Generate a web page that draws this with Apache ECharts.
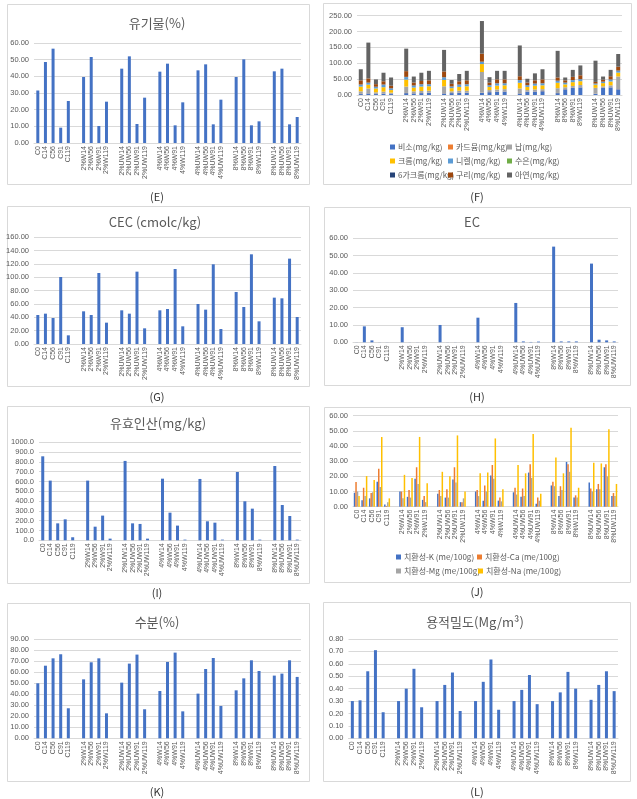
<!DOCTYPE html>
<html><head><meta charset="utf-8">
<script src="https://cdn.jsdelivr.net/npm/echarts/dist/echarts.min.js"></script>
<style>html,body{margin:0;padding:0;background:#fff}#c{width:637px;height:799px}</style>
</head><body><div id="c"></div>
<script>
// ---- data ----
const categories = ['C0','C14','C56','C91','C119',
  '2%W14','2%W56','2%W91','2%W119','2%UW14','2%UW56','2%UW91','2%UW119',
  '4%W14','4%W56','4%W91','4%W119','4%UW14','4%UW56','4%UW91','4%UW119',
  '8%W14','8%W56','8%W91','8%W119','8%UW14','8%UW56','8%UW91','8%UW119'];
const groupSizes = [5,4,4,4,4,4,4];

const organic = [31.5,48.6,56.6,9.2,25.2, 39.6,51.6,10.2,24.8, 44.6,52,11.4,27.2,
  42.8,47.6,10.6,24.4, 43.6,47.2,11.2,26, 39.6,50.2,10.6,13, 43,44.6,11.2,15.6];

const heavyNames = ['비소(mg/kg)','카드뮴(mg/kg)','납(mg/kg)','크롬(mg/kg)','니켈(mg/kg)','수은(mg/kg)','6가크롬(mg/kg)','구리(mg/kg)','아연(mg/kg)'];
const arsenic = [3,5,3,4,3, 6,5,6,7, 5,6,7,7, 7,9,10,11, 5,10,11,12, 6,18,22,24, 4,22,24,18];
const cadmium = [0.5,0.5,0.5,0.5,0.5, 0.5,0.5,0.5,0.5, 0.5,0.5,0.5,0.5, 0.5,0.5,0.5,0.5, 0.5,0.5,0.5,0.5, 0.5,0.5,0.5,0.5, 0.5,0.5,0.5,0.5];
const lead = [8,15,5,6,4, 20,6,6,6, 22,5,6,6, 65,6,7,7, 15,5,6,6, 15,6,6,7, 18,5,6,40];
const chromium = [15,12,12,14,8, 22,12,14,14, 20,10,12,14, 25,10,12,12, 18,10,12,12, 17,9,12,12, 10,10,12,12];
const nickel = [6,6,5,8,5, 8,6,7,6, 8,5,7,6, 7,5,7,6, 8,5,6,6, 6,5,6,6, 3,4,6,6];
const mercury = [0.2,0.2,0.2,0.2,0.2, 0.2,0.2,0.2,0.2, 0.2,0.2,0.2,0.2, 0.2,0.2,0.2,0.2, 0.2,0.2,0.2,0.2, 0.2,0.2,0.2,0.2, 0.2,0.2,0.2,0.2];
const chromium6 = [0.5,0.5,0.5,0.5,0.5, 0.5,0.5,0.5,0.5, 0.5,0.5,0.5,0.5, 0.5,0.5,0.5,0.5, 0.5,0.5,0.5,0.5, 0.5,0.5,0.5,0.5, 0.5,0.5,0.5,0.5];
const copper = [13,13,8,10,8, 18,9,10,12, 18,8,10,12, 25,8,12,12, 12,8,10,12, 10,7,10,12, 5,6,10,12];
const zinc = [35,113,15,27,26, 71,19,26,30, 68,12,23,30, 103,17,27,27, 97,12,22,32, 84,9,22,31, 67,10,20,40];

const cec = [43.5,45.5,39,100.5,13, 49,43.5,106.5,32, 50.5,45.5,108.5,23.5,
  50.5,52.5,112.5,26.5, 60,51.5,119.5,22.5, 78,55.5,134.5,34, 69.5,68.5,128,40.5];

const ec = [0.05,9.2,1.1,0.05,0.05, 8.7,0.05,0.05,0.05, 10,0.05,0.05,0.05,
  14.2,0.05,0.05,0.05, 22.7,0.5,0.2,0.4, 55.2,0.5,0.5,0.5, 45.4,1.5,1.1,0.5];

const phosphate = [857,609,173,214,31, 609,139,252,17, 810,173,167,17,
  629,282,150,7, 626,194,180,7, 697,398,323,7, 758,360,248,7];

const cationNames = ['치환성-K (me/100g)','치환성-Ca (me/100g)','치환성-Mg (me/100g)','치환성-Na (me/100g)'];
const exK  = [9.2,4.2,5.5,16.5,1.5, 10,6.5,18.5,4.5, 8.5,6,18,3, 10,4,20.5,4, 9.5,6.5,22.5,2, 14,7,29.5,6, 16,11.5,26,7];
const exCa = [16.3,12.5,9,25,0.5, 10,11,26,7, 11,11.5,26,3, 11,14,27.5,6, 12.5,12,28,6, 16.5,13.5,28,7.5, 12,15,28,9];
const exMg = [10,7,9.5,13,3, 5.5,6,15,3, 7,6,16,5.5, 7,10,18.5,3.5, 8,7,19,4, 13.5,11,23,6, 10,11.5,20,7];
const exNa = [7,20.2,17.6,46,5.5, 21,19,46,15.5, 23,20,47,10, 22,22.5,45,11.5, 27.5,22,48,8.5, 32.5,22,52,12.5, 29,28.5,51,15];

const moisture = [50,66,72.7,76.4,27.3, 53.6,69.1,72.7,22.7, 50.6,67.9,76.1,26.4,
  43,69.4,77.9,24.5, 40.6,63,73,29.4, 43.6,54.5,70.9,61.2, 57,58.8,70.9,55.8];

const bulkDensity = [0.30,0.306,0.54,0.71,0.21, 0.30,0.40,0.56,0.25, 0.30,0.43,0.53,0.22,
  0.30,0.455,0.635,0.23, 0.30,0.39,0.51,0.275, 0.30,0.37,0.535,0.40, 0.31,0.43,0.54,0.38];

// ---- helpers: insert empty slot between groups ----
function gapped(arr, filler) {
  const out = []; let i = 0;
  groupSizes.forEach((g, gi) => {
    if (gi > 0) out.push(filler(gi));
    for (let k = 0; k < g; k++) out.push(arr[i++]);
  });
  return out;
}
const cats = gapped(categories, gi => ' '.repeat(gi));
const G = a => gapped(a, () => null);

const BLUE = '#4472C4';
const LBL = '#595959';
const GRIDC = '#d9d9d9';
const KFONT = '"Noto Sans CJK KR","Noto Sans",sans-serif';

const panels = [
  {grid:{left:34,top:43,width:267,height:100}, max:60, interval:10, dec:2},
  {grid:{left:357,top:15.7,width:265,height:79.3}, max:250, interval:50, dec:2},
  {grid:{left:34,top:237.3,width:267,height:106.7}, max:160, interval:20, dec:2},
  {grid:{left:353,top:238.3,width:265,height:104}, max:60, interval:10, dec:2},
  {grid:{left:39,top:442.3,width:262,height:98}, max:1000, interval:100, dec:1},
  {grid:{left:353,top:415.7,width:265,height:91}, max:60, interval:10, dec:2},
  {grid:{left:34,top:639.3,width:267,height:99}, max:90, interval:10, dec:2},
  {grid:{left:348.5,top:639,width:269.5,height:99.3}, max:0.8, interval:0.1, dec:2}
];

const grids = [], xAxes = [], yAxes = [];
panels.forEach((p, i) => {
  grids.push(Object.assign({containLabel:false}, p.grid));
  xAxes.push({type:'category', gridIndex:i, data:cats,
    axisLine:{lineStyle:{color:GRIDC}}, axisTick:{show:false},
    axisLabel:{interval:0, rotate:90, fontSize:7, color:LBL, margin:3, fontFamily:'"Liberation Sans",sans-serif'}});
  yAxes.push({type:'value', gridIndex:i, min:0, max:p.max, interval:p.interval,
    axisLine:{show:false}, axisTick:{show:false},
    splitLine:{lineStyle:{color:GRIDC, width:1}},
    axisLabel:{fontSize:7.5, color:LBL, margin:5, fontFamily:'"Liberation Sans",sans-serif',
      formatter: v => v.toFixed(p.dec)}});
});

function simpleBar(idx, name, data, w) {
  return {type:'bar', name, xAxisIndex:idx, yAxisIndex:idx, data:G(data), barWidth:w||3,
    itemStyle:{color:BLUE}, silent:true};
}

const heavyColors = ['#4472C4','#ED7D31','#A5A5A5','#FFC000','#5B9BD5','#70AD47','#264478','#9E480E','#636363'];
const heavyData = [arsenic,cadmium,lead,chromium,nickel,mercury,chromium6,copper,zinc];
const cationColors = ['#4472C4','#ED7D31','#A5A5A5','#FFC000'];
const cationData = [exK,exCa,exMg,exNa];

const series = [];
series.push(simpleBar(0,'유기물',organic));
heavyData.forEach((d, k) => series.push({type:'bar', name:heavyNames[k], stack:'hm',
  xAxisIndex:1, yAxisIndex:1, data:G(d), barWidth:4, itemStyle:{color:heavyColors[k]}}));
series.push(simpleBar(2,'CEC',cec));
series.push(simpleBar(3,'EC',ec));
series.push(simpleBar(4,'유효인산',phosphate));
cationData.forEach((d, k) => series.push({type:'bar', name:cationNames[k],
  xAxisIndex:5, yAxisIndex:5, data:G(d), barWidth:1.5, barGap:'0%', itemStyle:{color:cationColors[k]}}));
series.push(simpleBar(6,'수분',moisture));
series.push(simpleBar(7,'용적밀도',bulkDensity));

// legends (one per item, positioned like the Excel layout)
const legendPos = [
  [390,143],[448,143],[507,143],
  [390,157],[448,157],[507,157],
  [390,171],[448,171],[507,171]
];
const legends = [];
heavyNames.forEach((n, k) => legends.push({data:[n], left:legendPos[k][0], top:legendPos[k][1],
  icon:'rect', itemWidth:5, itemHeight:5, itemGap:4, selectedMode:false,
  textStyle:{fontSize:8, color:LBL, fontFamily:KFONT, padding:[0,0,0,-2]}, padding:0}));
const cPos = [[396,553],[477,553],[396,567],[478,567]];
cationNames.forEach((n, k) => legends.push({data:[n], left:cPos[k][0], top:cPos[k][1],
  icon:'rect', itemWidth:5, itemHeight:5, selectedMode:false,
  textStyle:{fontSize:8, color:LBL, fontFamily:KFONT, padding:[0,0,0,-2]}, padding:0}));

// frames, titles, captions
const graphic = [];
const boxes = [[7,4,302,180],[323,3,308,181],[7,206,302,180],[324,207,306,178],
  [7,406,302,177],[324,407,306,175],[7,603,302,178],[323,602,307,179]];
boxes.forEach(b => graphic.push({type:'rect', shape:{x:b[0]+0.5,y:b[1]+0.5,width:b[2],height:b[3]},
  style:{fill:'none', stroke:'#d9d9d9', lineWidth:1}, silent:true, z:-1}));
function txt(t, x, y, size, color) {
  return {type:'text', x, y, silent:true,
    style:{text:t, fontSize:size, fill:color, fontFamily:KFONT,
      align:'center', verticalAlign:'middle', textAlign:'center', textVerticalAlign:'middle'}};
}
const titles = [['유기물(%)',157,23],['CEC (cmolc/kg)',155,222],['EC',472,222],
  ['유효인산(mg/kg)',158,423],['수분(%)',157,622],['용적밀도(Mg/m³)',475,622]];
titles.forEach(t => graphic.push(txt(t[0], t[1], t[2], 13, LBL)));
const captions = [['(E)',157,197],['(F)',477,197],['(G)',157,397],['(H)',477,397],
  ['(I)',157,593],['(J)',477,592],['(K)',157,792],['(L)',477,792]];
captions.forEach(t => graphic.push(txt(t[0], t[1], t[2], 11, '#333')));

const chart = echarts.init(document.getElementById('c'), null, {renderer:'canvas'});
chart.setOption({
  animation:false,
  backgroundColor:'#fff',
  textStyle:{fontFamily:KFONT},
  grid:grids, xAxis:xAxes, yAxis:yAxes, series, legend:legends, graphic
});
</script>
</body></html>
